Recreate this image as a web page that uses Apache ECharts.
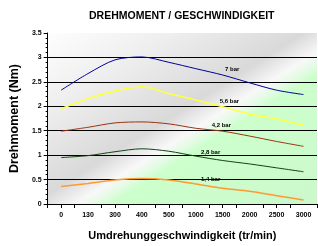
<!DOCTYPE html>
<html><head><meta charset="utf-8">
<script src="https://cdn.jsdelivr.net/npm/echarts@6/dist/echarts.min.js"></script>
<style>html,body{margin:0;padding:0;background:#fff}#c{width:318px;height:246px}</style>
</head><body><div id="c"></div>
<script>
var categories = ['0','130','300','400','500','1000','1500','2000','2500','3000'];
var seriesNames = ['7 bar','5,6 bar','4,2 bar','2,8 bar','1,4 bar'];
var s7bar  = [2.33,2.67,2.95,3.01,2.90,2.77,2.64,2.48,2.33,2.24];
var s56bar = [1.95,2.16,2.31,2.40,2.26,2.13,1.99,1.84,1.74,1.62];
var s42bar = [1.49,1.57,1.66,1.68,1.64,1.55,1.49,1.39,1.28,1.18];
var s28bar = [0.95,0.99,1.07,1.13,1.08,0.98,0.89,0.82,0.74,0.66];
var s14bar = [0.36,0.42,0.49,0.52,0.49,0.41,0.32,0.26,0.17,0.08];
var labelCat = [6.35,6.25,5.95,5.55,5.55];
var labelVal = [2.76,2.11,1.61,1.06,0.51];
var yTicks = [0,0.5,1,1.5,2,2.5,3,3.5];

var allData = [s7bar,s56bar,s42bar,s28bar,s14bar];
var colors = ['#000099','#ffff44','#993311','#114411','#ff9933'];
var widths = [1,1.6,1,1,1.5];
var FONT = 'Liberation Sans';

var chart = echarts.init(document.getElementById('c'), null, {renderer:'canvas'});
var d0 = 48, d1 = 342;
function off(d){ return (d - d0)/(d1 - d0); }
var nx = 0.533, ny = 0.846;
var bg = new echarts.graphic.LinearGradient(nx*d0, ny*d0, nx*d1, ny*d1, [
  {offset:0, color:'#ffffff'},
  {offset:off(120), color:'#eeeeee'},
  {offset:off(190), color:'#d9d9d9'},
  {offset:off(213), color:'#f8f8f8'},
  {offset:off(223), color:'#e4fbe4'},
  {offset:off(232), color:'#ccffcc'},
  {offset:1, color:'#ccf8cc'}
], true);

var series = allData.map(function(d,i){
  return {
    name: seriesNames[i], type:'line', data:d, xAxisIndex:0, yAxisIndex:0,
    smooth:0.3, symbol:'none', lineStyle:{color:colors[i], width:widths[i]}
  };
});

chart.setOption({
  animation:false,
  title:{text:'DREHMOMENT / GESCHWINDIGKEIT', left:84, top:6,
    textStyle:{fontFamily:FONT, fontWeight:'bold', fontSize:10.5, color:'#000'}},
  grid:{left:37, right:1, top:33, bottom:41, show:true, backgroundColor:bg, borderWidth:0},
  xAxis:[{
    type:'category', data:categories, boundaryGap:true, position:'bottom',
    name:'Umdrehunggeschwindigkeit (tr/min)', nameLocation:'middle', nameGap:26,
    nameTextStyle:{fontFamily:FONT, fontWeight:'bold', fontSize:11, color:'#000'},
    axisLine:{lineStyle:{color:'#000', width:1}},
    axisTick:{show:true, length:4, lineStyle:{color:'#000'}},
    axisLabel:{fontFamily:FONT, fontWeight:'bold', fontSize:7, color:'#000', margin:8},
    splitLine:{show:false}
  },{
    type:'category', data:categories, boundaryGap:true, position:'bottom',
    axisLine:{show:false},
    axisTick:{show:true, alignWithLabel:true, length:4, lineStyle:{color:'#000'}},
    axisLabel:{show:false}, splitLine:{show:false}
  }],
  yAxis:{
    type:'value', min:yTicks[0], max:yTicks[yTicks.length-1], interval:0.5,
    name:'Drehmoment (Nm)', nameLocation:'middle', nameGap:21, nameRotate:90,
    nameTextStyle:{fontFamily:FONT, fontWeight:'bold', fontSize:12.5, color:'#000'},
    axisLine:{show:true, lineStyle:{color:'#000', width:1}},
    axisTick:{show:true, length:4, lineStyle:{color:'#000'}},
    minorTick:{show:true, splitNumber:5, length:2, lineStyle:{color:'#000'}},
    axisLabel:{fontFamily:FONT, fontWeight:'bold', fontSize:7, color:'#000', margin:6,
      formatter:function(v){return String(v);}},
    splitLine:{show:true, lineStyle:{color:['#000','#000','#000','#000','#000','#000','#000','rgba(0,0,0,0)'], width:1}}
  },
  series: series
});

// place line labels at fractional category positions via the axis scale
var texts = seriesNames.map(function(n,i){
  var c = labelCat[i], f = Math.floor(c), t = c - f;
  var p0 = chart.convertToPixel({gridIndex:0}, [f, labelVal[i]]);
  var p1 = chart.convertToPixel({gridIndex:0}, [f+1, labelVal[i]]);
  return {type:'text', x: p0[0] + (p1[0]-p0[0])*t, y: p0[1], z:10,
    style:{text:n, fill:'#000', font:'bold 6px "'+FONT+'"', align:'center', verticalAlign:'middle'}};
});
chart.setOption({graphic: texts});
</script></body></html>
